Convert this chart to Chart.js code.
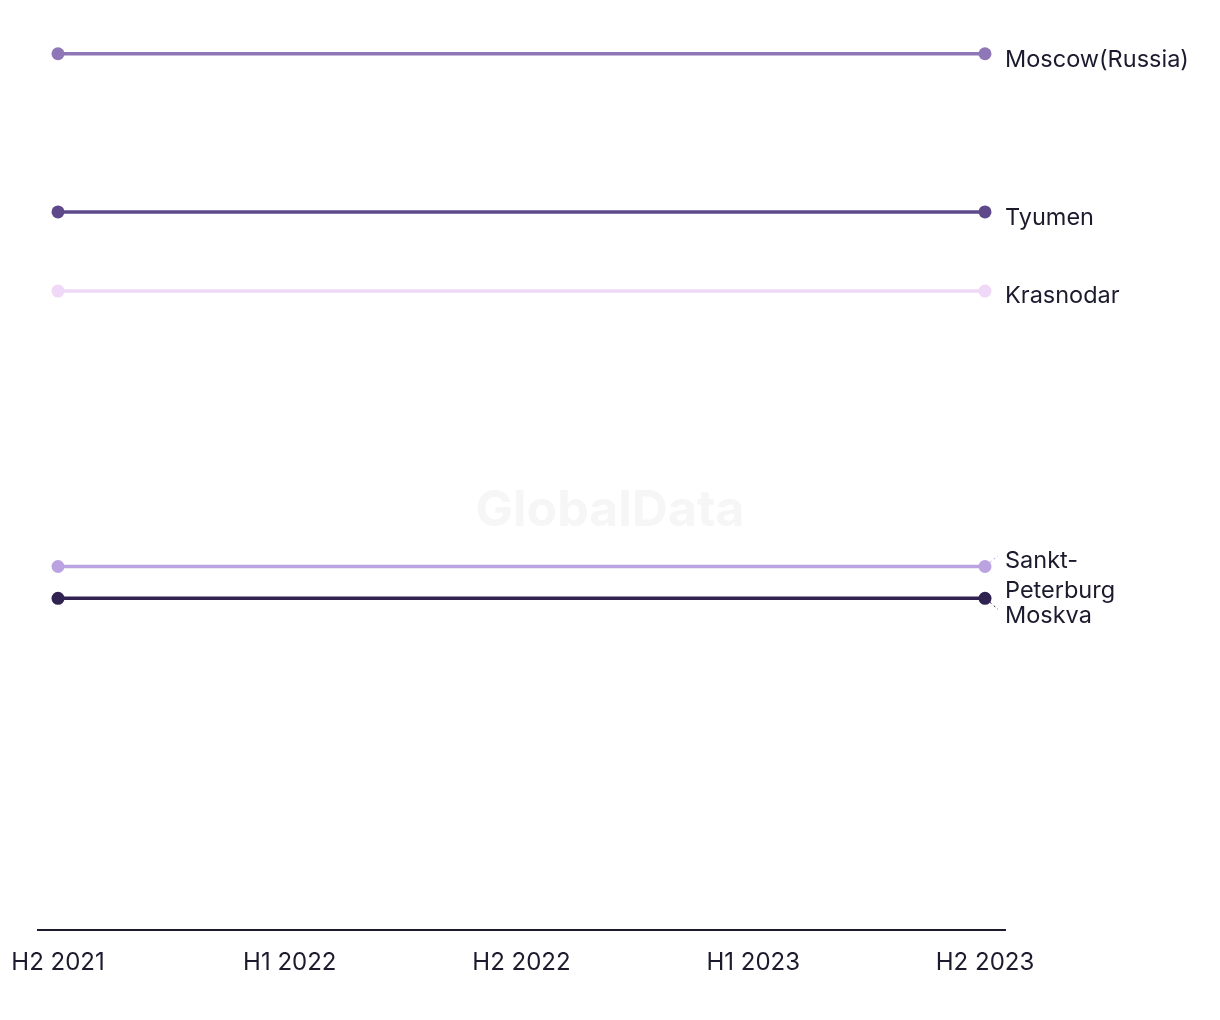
<!DOCTYPE html>
<html>
<head>
<meta charset="utf-8">
<script src="https://cdn.jsdelivr.net/npm/chart.js@4/dist/chart.umd.min.js"></script>
<style>
  html, body { margin: 0; padding: 0; background: #ffffff; }
  #wrap { width: 1220px; height: 1020px; position: relative; }
</style>
</head>
<body>
<div id="wrap"><canvas id="c" width="1220" height="1020"></canvas></div>
<script>
const categories = ["H2 2021", "H1 2022", "H2 2022", "H1 2023", "H2 2023"];
const seriesNames = ["Moscow(Russia)", "Tyumen", "Krasnodar", "Sankt-Peterburg", "Moskva"];
const moscowRussia = [96.4, 96.4, 96.4, 96.4, 96.4];
const tyumen = [79.0, 79.0, 79.0, 79.0, 79.0];
const krasnodar = [70.3, 70.3, 70.3, 70.3, 70.3];
const sanktPeterburg = [40.0, 40.0, 40.0, 40.0, 40.0];
const moskva = [36.5, 36.5, 36.5, 36.5, 36.5];
const seriesValues = [moscowRussia, tyumen, krasnodar, sanktPeterburg, moskva];

const colors = ["#8f76b6", "#5e4a8a", "#f0d8f8", "#bba2e0", "#2f2150"];
const textColor = "#1c1b2e";
const FONT = "Inter, 'Liberation Sans', sans-serif";

// label layout (style only): line texts and vertical offsets from the point
const labelLayout = [
  { lines: ["Moscow(Russia)"], dy: 6, leader: false },
  { lines: ["Tyumen"], dy: 6, leader: false },
  { lines: ["Krasnodar"], dy: 5, leader: false },
  { lines: ["Sankt-", "Peterburg"], dy: 9, leader: true, leaderDir: -1 },
  { lines: ["Moskva"], dy: 18, leader: true, leaderDir: 1 }
];

const datasets = seriesValues.map((vals, i) => ({
  label: seriesNames[i],
  data: vals.map((v, j) => ({ x: j, y: v })),
  borderColor: colors[i],
  backgroundColor: colors[i],
  borderWidth: 3.5,
  pointRadius: (ctx) => (ctx.dataIndex === 0 || ctx.dataIndex === vals.length - 1) ? 6.5 : 0,
  pointHoverRadius: 6.5,
  pointBorderWidth: 0,
  tension: 0
}));

const watermark = {
  id: 'watermark',
  beforeDatasetsDraw(chart) {
    const ctx = chart.ctx;
    ctx.save();
    ctx.font = "bold 50px " + FONT;
    ctx.fillStyle = "#f6f6f6";
    ctx.textAlign = "center";
    ctx.textBaseline = "middle";
    ctx.fillText("GlobalData", 610, 511);
    ctx.restore();
  }
};

const endLabels = {
  id: 'endLabels',
  afterDatasetsDraw(chart) {
    const ctx = chart.ctx;
    ctx.save();
    ctx.font = "23.5px " + FONT;
    ctx.fillStyle = textColor;
    ctx.textAlign = "left";
    ctx.textBaseline = "middle";
    chart.data.datasets.forEach((ds, i) => {
      const meta = chart.getDatasetMeta(i);
      const pt = meta.data[meta.data.length - 1];
      const lay = labelLayout[i];
      const x = pt.x + 20;
      const lh = 30;
      const startY = pt.y + lay.dy - (lay.lines.length - 1) * lh / 2;
      lay.lines.forEach((t, k) => ctx.fillText(t, x, startY + k * lh));
      if (lay.leader) {
        ctx.save();
        ctx.strokeStyle = colors[i];
        ctx.lineWidth = 1;
        ctx.setLineDash([2, 3]);
        ctx.beginPath();
        ctx.moveTo(pt.x + 5, pt.y + lay.leaderDir * 4);
        ctx.lineTo(pt.x + 13, pt.y + lay.leaderDir * 11);
        ctx.stroke();
        ctx.restore();
      }
    });
    ctx.restore();
  }
};

new Chart(document.getElementById('c'), {
  type: 'line',
  data: { datasets },
  options: {
    responsive: false,
    animation: false,
    layout: { autoPadding: false, padding: { left: 38, right: 215, top: 21, bottom: 25 } },
    plugins: { legend: { display: false }, tooltip: { enabled: false } },
    scales: {
      x: {
        type: 'linear',
        min: -0.0863,
        max: 4.0863,
        afterBuildTicks: (axis) => { axis.ticks = categories.map((c, i) => ({ value: i })); },
        afterFit: (axis) => { axis.paddingLeft = 0; axis.paddingRight = 0; },
        ticks: {
          callback: (v) => categories[v],
          color: textColor,
          font: { family: FONT, size: 24 },
          padding: 18,
          maxRotation: 0,
          autoSkip: false
        },
        grid: { display: false, drawTicks: false },
        border: { display: true, color: textColor, width: 2 }
      },
      y: {
        display: false,
        min: 0,
        max: 100
      }
    }
  },
  plugins: [watermark, endLabels]
});
</script>
</body>
</html>
